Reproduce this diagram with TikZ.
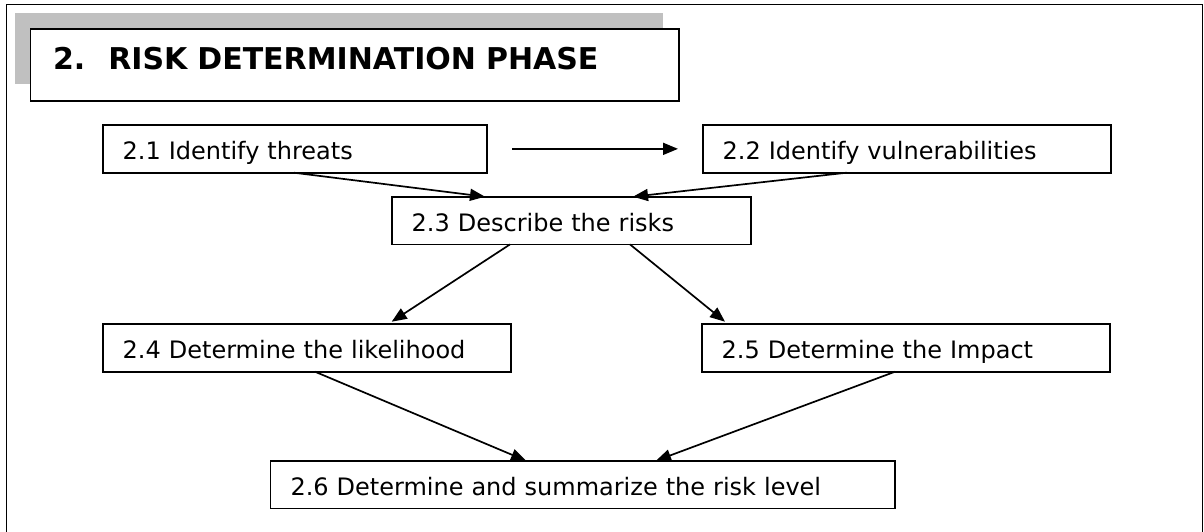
\documentclass[tikz,border=0pt]{standalone}
\usepackage{fontspec}
\newfontfamily\dejavu{DejaVu Sans}
\usetikzlibrary{arrows.meta,calc}
\definecolor{shadowgray}{RGB}{192,192,192}
\begin{document}
\begin{tikzpicture}[x=1pt,y=-1pt,
  box/.style={draw, line width=1.7pt, anchor=north west, inner xsep=20pt, inner ysep=0pt,
    outer sep=0pt, align=left, font=\dejavu\fontsize{24}{28}\selectfont,
    text height=22pt, text depth=0pt, minimum height=47.7pt},
  titlebox/.style={draw, line width=1.7pt, anchor=north west, fill=white, inner xsep=22.5pt,
    inner ysep=0pt, outer sep=0pt, align=left, minimum height=72pt,
    text height=8.6pt, text depth=0pt, font=\dejavu\bfseries\fontsize{30}{34}\selectfont},
  arr/.style={line width=1.7pt, -{Triangle[length=15pt,width=12pt]}}]
\useasboundingbox (0,0) rectangle (1204,531);
% outer frame (bottom edge lies outside the picture)
\begin{scope}
\clip (0,0) rectangle (1204,531);
\draw[line width=1.7pt] (6.5,4.5) rectangle (1202.5,545);
\end{scope}
% shadow band behind the title
\fill[shadowgray] (15,13) rectangle (662.7,84);
% title
\node[titlebox, text width=603.5pt] (title) at (30.5,28.7) {2.\hspace{8pt} RISK DETERMINATION PHASE};
% boxes
\node[box, text width=344pt]   (n21) at (102.7,125)   {2.1 Identify threats};
\node[box, text width=368.3pt] (n22) at (702.7,125)   {2.2 Identify vulnerabilities};
\node[box, text width=319.3pt] (n23) at (391.7,196.7) {2.3 Describe the risks};
\node[box, text width=368pt]   (n24) at (102.7,324)   {2.4 Determine the likelihood};
\node[box, text width=368.3pt] (n25) at (701.7,324)   {2.5 Determine the Impact};
\node[box, text width=584.5pt] (n26) at (270.5,460.7) {2.6 Determine and summarize the risk level};
% connectors
\draw[arr] ($(n21.east)+(25.3,0)$) -- ($(n22.west)+(-24.7,0)$);
\draw[arr] ($(n21.south west)+(191.3,0)$) -- ($(n23.north west)+(93.3,0)$);
\draw[arr] ($(n22.south west)+(144,0)$) -- ($(n23.north west)+(241.3,0)$);
\draw[arr] ($(n23.south west)+(118.3,0)$) -- ($(n24.north west)+(289,-2.3)$);
\draw[arr] ($(n23.south west)+(238.3,0)$) -- ($(n25.north west)+(23.3,-2.3)$);
\draw[arr] ($(n24.south west)+(212.3,0)$) -- ($(n26.north west)+(255.5,0)$);
\draw[arr] ($(n25.south west)+(193.3,0)$) -- ($(n26.north west)+(385.5,0)$);
\end{tikzpicture}
\end{document}
